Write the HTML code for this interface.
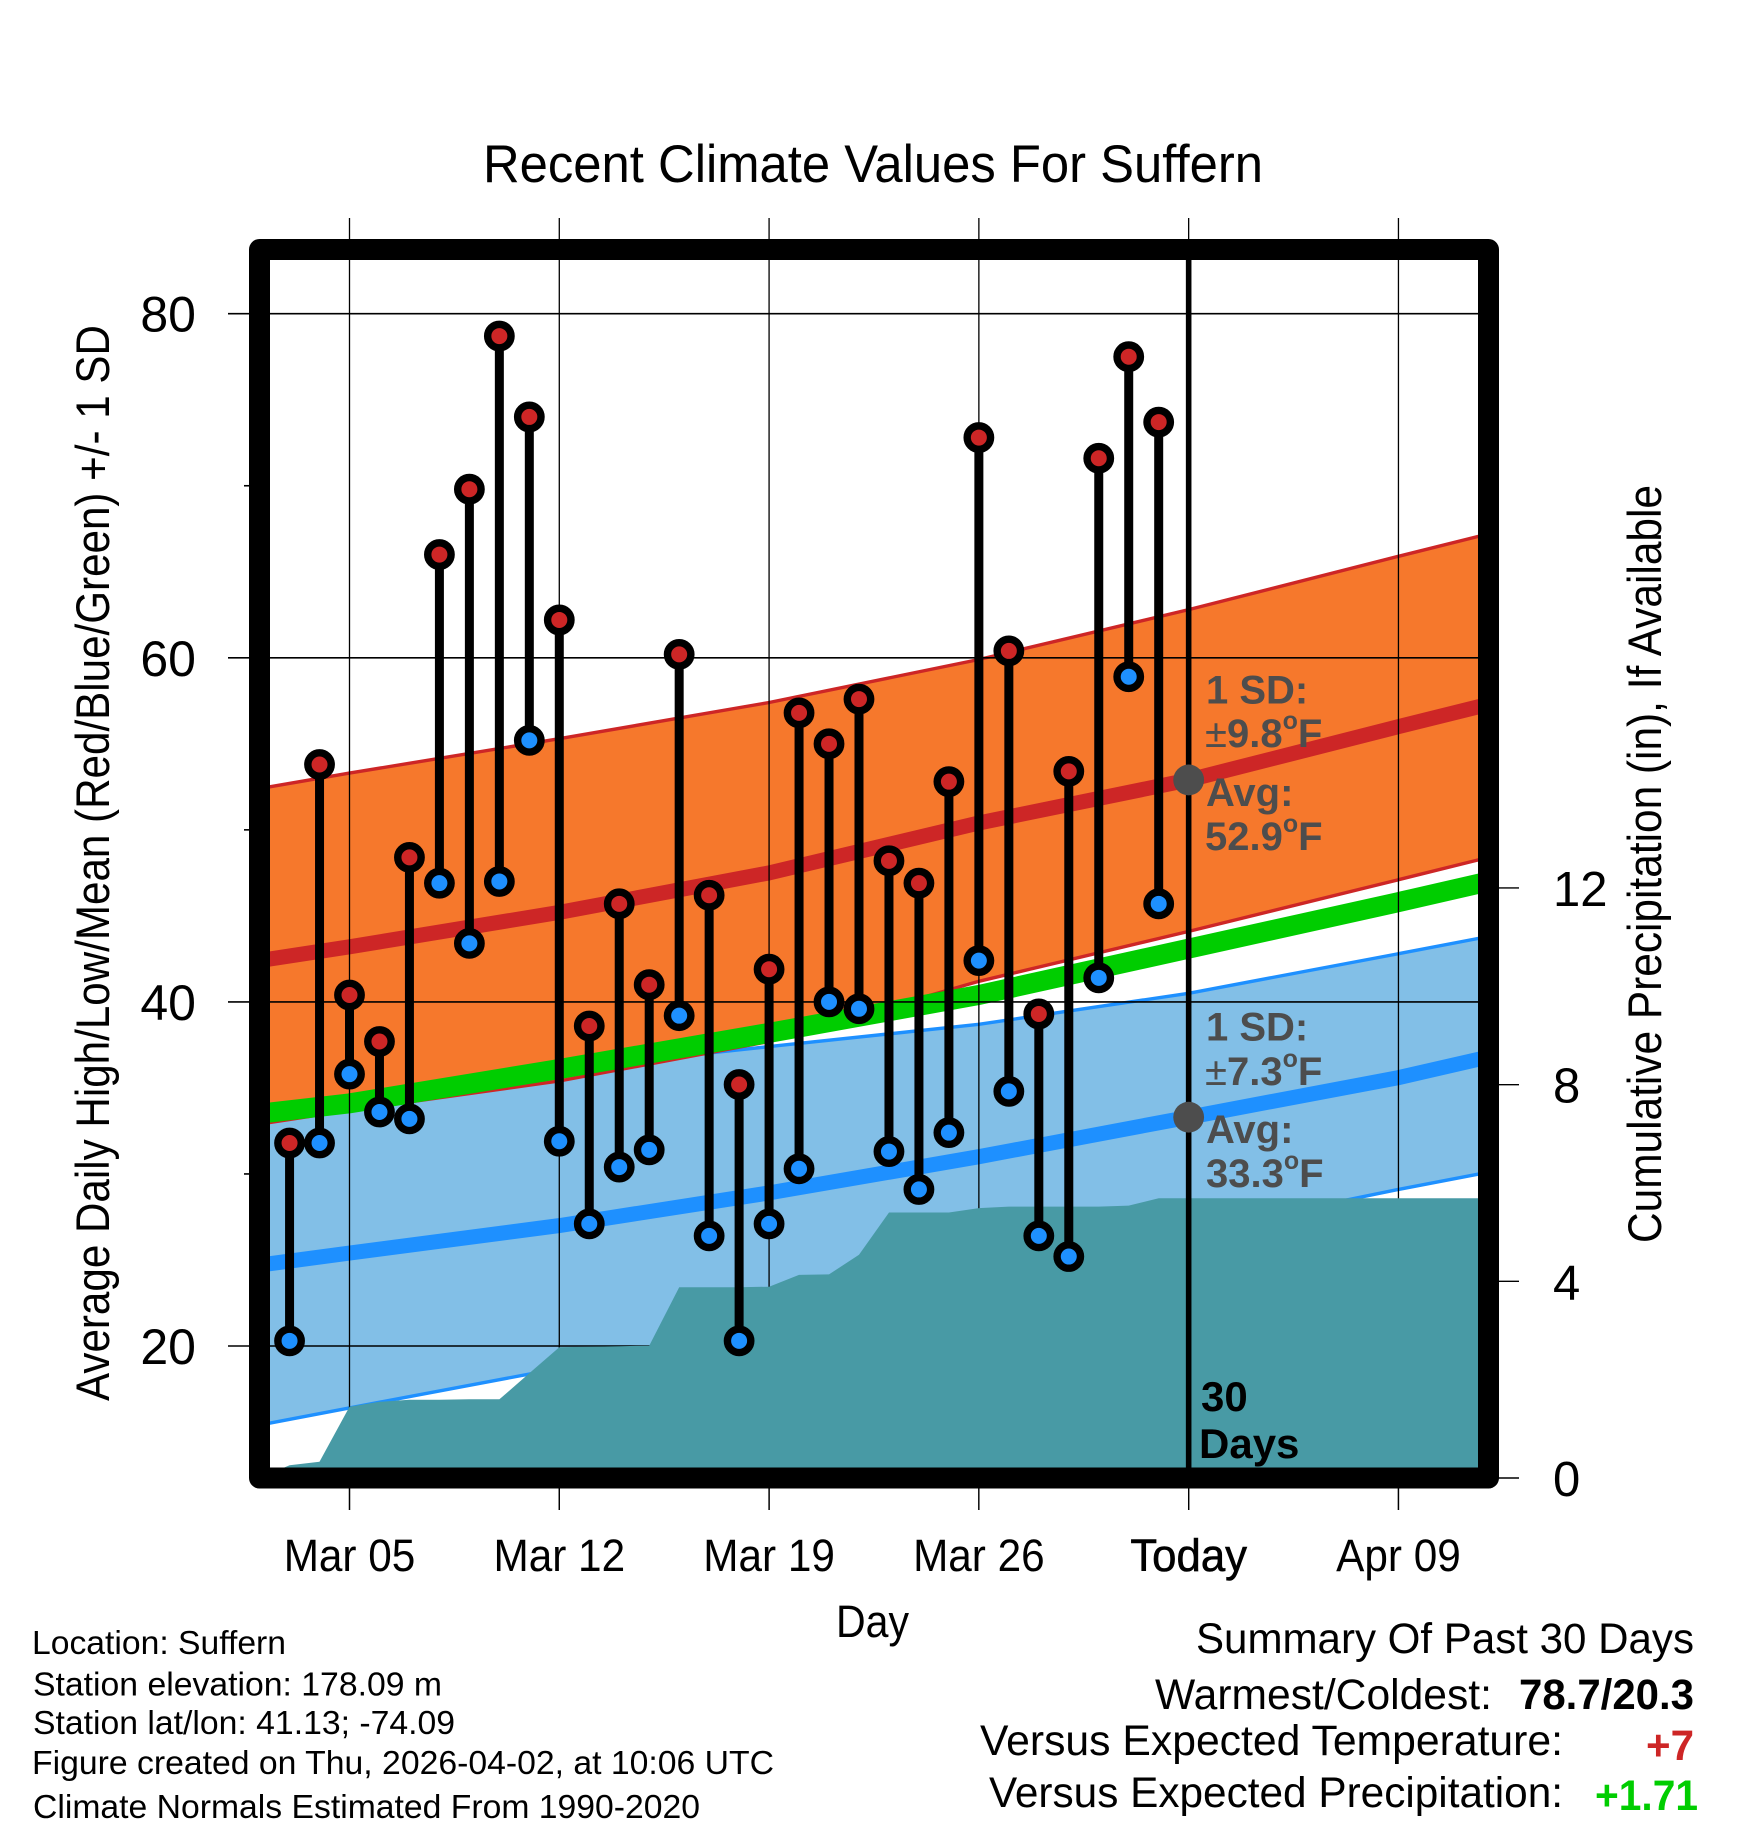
<!DOCTYPE html>
<html lang="en">
<head>
<meta charset="utf-8">
<title>Recent Climate Values For Suffern</title>
<style>
html,body{margin:0;padding:0;background:#fff}
svg{display:block}
text{font-family:"Liberation Sans",sans-serif;fill:#000}
.ann{font-weight:bold;font-size:40px;fill:#4d4d4d}
.foot{font-size:33px}
.sum{font-size:43px}
</style>
</head>
<body>
<svg id="chart" xmlns="http://www.w3.org/2000/svg" width="1748" height="1828" viewBox="0 0 1748 1828">
  <rect x="0" y="0" width="1748" height="1828" fill="#fff"/>
  <g id="bands"></g>
  <g id="grid"></g>
  <g id="precip"></g>
  <g id="frame"></g>
  <g id="marks"></g>
  <g id="ticklabels"></g>

  <text x="483" y="182" font-size="53" textLength="780" lengthAdjust="spacingAndGlyphs">Recent Climate Values For Suffern</text>
  <text transform="translate(109,1401) rotate(-90)" font-size="47" textLength="1076" lengthAdjust="spacingAndGlyphs">Average Daily High/Low/Mean (Red/Blue/Green) +/- 1 SD</text>
  <text transform="translate(1661,1243) rotate(-90)" font-size="47" textLength="758" lengthAdjust="spacingAndGlyphs">Cumulative Precipitation (in), If Available</text>
  <text x="836" y="1637" font-size="45" textLength="73" lengthAdjust="spacingAndGlyphs">Day</text>

  <text class="ann" x="1206" y="703.5">1 SD:</text>
  <text class="ann" x="1205" y="747"><tspan font-weight="normal">±</tspan>9.8<tspan font-size="25" dy="-18">o</tspan><tspan dy="18">F</tspan></text>
  <text class="ann" x="1206" y="806">Avg:</text>
  <text class="ann" x="1205" y="850">52.9<tspan font-size="25" dy="-18">o</tspan><tspan dy="18">F</tspan></text>
  <text class="ann" x="1206" y="1040.5">1 SD:</text>
  <text class="ann" x="1205" y="1085"><tspan font-weight="normal">±</tspan>7.3<tspan font-size="25" dy="-18">o</tspan><tspan dy="18">F</tspan></text>
  <text class="ann" x="1206" y="1143">Avg:</text>
  <text class="ann" x="1206" y="1187">33.3<tspan font-size="25" dy="-18">o</tspan><tspan dy="18">F</tspan></text>
  <text x="1201" y="1411" font-size="42" font-weight="bold">30</text>
  <text x="1199" y="1458" font-size="42" font-weight="bold">Days</text>

  <text class="foot" x="32" y="1654" textLength="254" lengthAdjust="spacingAndGlyphs">Location: Suffern</text>
  <text class="foot" x="33" y="1695.5" textLength="409" lengthAdjust="spacingAndGlyphs">Station elevation: 178.09 m</text>
  <text class="foot" x="33" y="1734" textLength="422" lengthAdjust="spacingAndGlyphs">Station lat/lon: 41.13; -74.09</text>
  <text class="foot" x="32" y="1774" textLength="742" lengthAdjust="spacingAndGlyphs">Figure created on Thu, 2026-04-02, at 10:06 UTC</text>
  <text class="foot" x="33" y="1818" textLength="667" lengthAdjust="spacingAndGlyphs">Climate Normals Estimated From 1990-2020</text>

  <text class="sum" x="1196" y="1653" textLength="498" lengthAdjust="spacingAndGlyphs">Summary Of Past 30 Days</text>
  <text class="sum" x="1155" y="1709" textLength="337" lengthAdjust="spacingAndGlyphs">Warmest/Coldest:</text>
  <text class="sum" x="1519" y="1709" font-weight="bold" textLength="175" lengthAdjust="spacingAndGlyphs">78.7/20.3</text>
  <text class="sum" x="980" y="1755" textLength="583" lengthAdjust="spacingAndGlyphs">Versus Expected Temperature:</text>
  <text class="sum" x="1646" y="1760" font-weight="bold" style="fill:#cd2626" textLength="48" lengthAdjust="spacingAndGlyphs">+7</text>
  <text class="sum" x="989" y="1807" textLength="574" lengthAdjust="spacingAndGlyphs">Versus Expected Precipitation:</text>
  <text class="sum" x="1595" y="1810" font-weight="bold" style="fill:#00cd00" textLength="103" lengthAdjust="spacingAndGlyphs">+1.71</text>
</svg>

<script>
// ---- data ----
const dayLabels = ['Mar 03','Mar 04','Mar 05','Mar 06','Mar 07','Mar 08','Mar 09','Mar 10','Mar 11','Mar 12','Mar 13','Mar 14','Mar 15','Mar 16','Mar 17','Mar 18','Mar 19','Mar 20','Mar 21','Mar 22','Mar 23','Mar 24','Mar 25','Mar 26','Mar 27','Mar 28','Mar 29','Mar 30','Mar 31','Apr 01'];
const highs = [31.8,53.8,40.4,37.7,48.4,66.0,69.8,78.7,74.0,62.2,38.6,45.7,41.0,60.2,46.2,35.2,41.9,56.8,55.0,57.6,48.2,46.9,52.8,72.8,60.4,39.3,53.4,71.6,77.5,73.7];
const lows = [20.3,31.8,35.8,33.6,33.2,46.9,43.4,47.0,55.2,31.9,27.1,30.4,31.4,39.2,26.4,20.3,27.1,30.3,40.0,39.6,31.3,29.1,32.4,42.4,34.8,26.4,25.2,41.4,58.9,45.7];
const precipDays = [-3,-2,-1,0,1,2,3,4,5,6,7,8,9,10,11,12,13,14,15,16,17,18,19,20,21,22,23,24,25,26,27,38];
const precipValues = [0,0.26,0.33,1.45,1.55,1.59,1.59,1.60,1.60,2.13,2.66,2.67,2.68,2.69,3.88,3.88,3.88,3.89,4.13,4.14,4.54,5.40,5.40,5.40,5.49,5.52,5.52,5.52,5.52,5.54,5.69,5.69];
const normalDays = [-3,0,7,14,21,28,35,38];
const highMean = [42.4,43.2,45.2,47.5,50.4,52.9,56.0,57.3];
const highUpper = [52.4,53.3,55.3,57.4,59.9,62.8,65.9,67.2];
const highLower = [32.9,33.7,35.4,37.7,41.2,44.1,47.1,48.4];
const dailyMean = [33.5,34.1,36.1,38.2,40.4,43.1,45.8,47.0];
const lowMean = [24.7,25.4,27.0,28.9,31.0,33.3,35.6,36.8];
const lowUpper = [34.8,35.2,36.1,37.4,38.7,40.5,42.8,43.8];
const lowLower = [15.4,16.4,18.7,21.4,24.1,26.6,29.1,30.1];
const todayHighAvg = [52.9];
const todayLowAvg = [33.3];
const tempTicks = [20,40,60,80];
const tempMinorTicks = [30,50,70];
const precipTicks = [0,4,8,12];
const xTickDays = [0,7,14,21,28,35];
const xTickLabels = ['Mar 05','Mar 12','Mar 19','Mar 26','Today','Apr 09'];
const firstDay = -2;
const todayDay = 28;

// ---- axis functions ----
function xScale(d){ return 349.5 + 29.97 * d; }
function yTemp(t){ return 313.7 + (80 - t) * 17.205; }
function yPrecip(p){ return 1478 - p * 49.17; }

const NS = 'http://www.w3.org/2000/svg';
function make(parent, tag, attrs){
  const el = document.createElementNS(NS, tag);
  for (const k in attrs) el.setAttribute(k, attrs[k]);
  parent.appendChild(el);
  return el;
}
function pts(days, vals, yf){ return days.map((d,i)=>xScale(d).toFixed(1)+','+yf(vals[i]).toFixed(1)); }
function linePts(vals){ return pts(normalDays, vals, yTemp).join(' '); }
function bandPts(up, lo){
  return pts(normalDays, up, yTemp).concat(pts(normalDays, lo, yTemp).reverse()).join(' ');
}

// ---- bands ----
const bands = document.getElementById('bands');
let el;
el = make(bands,'polygon',{points:bandPts(lowUpper,lowLower),fill:'#82bfe7'});


el = make(bands,'polyline',{points:linePts(lowUpper),fill:'none',stroke:'#1e90ff','stroke-width':3.4});


el = make(bands,'polyline',{points:linePts(lowLower),fill:'none',stroke:'#1e90ff','stroke-width':3.4});


el = make(bands,'polyline',{points:linePts(lowMean),fill:'none',stroke:'#1e90ff','stroke-width':15});


el = make(bands,'polygon',{points:bandPts(highUpper,highLower),fill:'#f6782c'});


el = make(bands,'polyline',{points:linePts(highUpper),fill:'none',stroke:'#cd2626','stroke-width':3.4});


el = make(bands,'polyline',{points:linePts(highLower),fill:'none',stroke:'#cd2626','stroke-width':3.4});


el = make(bands,'polyline',{points:linePts(highMean),fill:'none',stroke:'#cd2626','stroke-width':15});


el = make(bands,'polyline',{points:linePts(dailyMean),fill:'none',stroke:'#00cd00','stroke-width':20});



// ---- grid + ticks ----
const grid = document.getElementById('grid');
tempTicks.forEach(t=>{
  const g = make(grid,'line',{x1:228,x2:1478,y1:yTemp(t),y2:yTemp(t),stroke:'#000','stroke-width':1.6});
  
  
});
tempMinorTicks.forEach(t=>{
  const g = make(grid,'line',{x1:244,x2:250,y1:yTemp(t),y2:yTemp(t),stroke:'#000','stroke-width':1.6});
  
  
});
xTickDays.forEach(d=>{
  const g = make(grid,'line',{x1:xScale(d),x2:xScale(d),y1:218,y2:1510,stroke:'#000','stroke-width':1.3});
  
  
});
precipTicks.forEach(p=>{
  const g = make(grid,'line',{x1:1490,x2:1519,y1:yPrecip(p),y2:yPrecip(p),stroke:'#000','stroke-width':1.4});
  
  
});

// ---- precipitation ----
const precip = document.getElementById('precip');
const precipTop = pts(precipDays, precipValues, yPrecip);
const precipPoly = precipTop.concat([xScale(38).toFixed(1)+','+yPrecip(0), xScale(-3).toFixed(1)+','+yPrecip(0)]).join(' ');
el = make(precip,'polygon',{points:precipPoly,fill:'#489aa5'});


// tick stubs below the frame are re-drawn above the area
xTickDays.forEach(d=>{
  const g = make(precip,'line',{x1:xScale(d),x2:xScale(d),y1:1480,y2:1510,stroke:'#000','stroke-width':1.3});
  
  
});

// ---- frame ----
const frame = document.getElementById('frame');
el = make(frame,'rect',{x:259.5,y:249.5,width:1229,height:1228.5,fill:'none',stroke:'#000','stroke-width':21,'stroke-linejoin':'round'});


el = make(frame,'line',{x1:xScale(todayDay),x2:xScale(todayDay),y1:255,y2:1475,stroke:'#000','stroke-width':5.6});


el = make(frame,'circle',{cx:xScale(todayDay),cy:yTemp(todayHighAvg[0]),r:15.4,fill:'#4d4d4d'});


el = make(frame,'circle',{cx:xScale(todayDay),cy:yTemp(todayLowAvg[0]),r:15.4,fill:'#4d4d4d'});



// ---- daily marks ----
const marks = document.getElementById('marks');
dayLabels.forEach((lab,i)=>{
  const x = xScale(firstDay + i);
  const stem = make(marks,'line',{x1:x,x2:x,y1:yTemp(highs[i]),y2:yTemp(lows[i]),stroke:'#000','stroke-width':9});
  
  
});
dayLabels.forEach((lab,i)=>{
  const x = xScale(firstDay + i);
  const lo = make(marks,'circle',{cx:x,cy:yTemp(lows[i]),r:11.7,fill:'#1e90ff',stroke:'#000','stroke-width':7.4});
  
  
  const hi = make(marks,'circle',{cx:x,cy:yTemp(highs[i]),r:11.7,fill:'#cd2626',stroke:'#000','stroke-width':7.4});
  
  
});

// ---- tick labels ----
const tl = document.getElementById('ticklabels');
tempTicks.forEach(t=>{
  const e = make(tl,'text',{x:196,y:yTemp(t)+18,'text-anchor':'end','font-size':50});
  e.textContent = String(t);
  
  
});
precipTicks.forEach(p=>{
  const e = make(tl,'text',{x:1553,y:yPrecip(p)+18,'font-size':49});
  e.textContent = String(p);
  
  
});
xTickLabels.forEach((lab,i)=>{
  const sx = lab === 'Today' ? 0.972 : 0.94;
  const e = make(tl,'text',{transform:'translate('+xScale(xTickDays[i])+',1571) scale('+sx+',1)','text-anchor':'middle','font-size':45});
  e.textContent = lab;
  if (lab === 'Today') { e.setAttribute('stroke','#000'); e.setAttribute('stroke-width','0.6'); }
  
  
});
</script>
</body>
</html>
